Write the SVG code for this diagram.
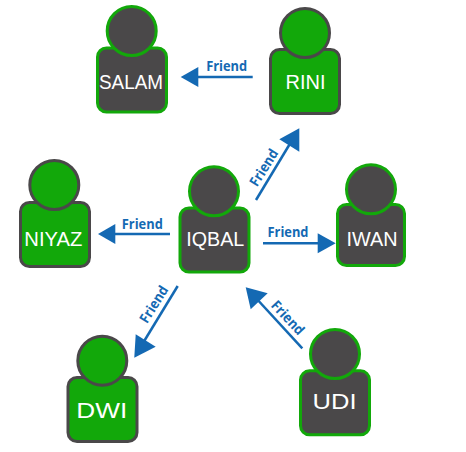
<svg xmlns="http://www.w3.org/2000/svg" width="466" height="452" viewBox="0 0 466 452">
<style>
.dark{fill:#4a4849;stroke:#12a80a;stroke-width:3}
.green{fill:#12a80a;stroke:#4a4849;stroke-width:3}
.name{font-family:"Liberation Sans",Arial,sans-serif;font-size:19.5px;fill:#fff;text-anchor:middle;dominant-baseline:central}
.big{font-size:22px}
.rel{font-family:"Open Sans","Noto Sans",sans-serif;font-weight:700;font-size:14px;fill:#1469b3;text-anchor:middle;dominant-baseline:central}
.line{stroke:#1469b3;stroke-width:2.5;fill:none}
.head{fill:#1469b3}
</style>
<rect width="466" height="452" fill="#fff"/>
<g id="connectors">
<path class="line" d="M252.7 77H190"/><polygon class="head" points="180.7,77 198.3,67 198.3,87"/>
<text class="rel" x="226.7" y="65" textLength="41" lengthAdjust="spacingAndGlyphs">Friend</text>
<path class="line" d="M256 200L291 142"/><polygon class="head" points="299.3,128.3 279.3,139.3 299.3,151.7"/>
<text class="rel" transform="translate(263.3 167.3) rotate(-58)" textLength="41" lengthAdjust="spacingAndGlyphs">Friend</text>
<path class="line" d="M263 243.3H325"/><polygon class="head" points="335.7,243.3 317.7,233.3 317.7,253.3"/>
<text class="rel" x="288" y="231" textLength="41" lengthAdjust="spacingAndGlyphs">Friend</text>
<path class="line" d="M170 234H108"/><polygon class="head" points="98,234 115.3,224 115.3,244"/>
<text class="rel" x="142.3" y="223.3" textLength="41" lengthAdjust="spacingAndGlyphs">Friend</text>
<path class="line" d="M177.7 286L143 343"/><polygon class="head" points="134.3,357.7 135.7,334.3 155.7,346.7"/>
<text class="rel" transform="translate(153.3 304) rotate(-58)" textLength="41" lengthAdjust="spacingAndGlyphs">Friend</text>
<path class="line" d="M302.3 348.3L255 297"/><polygon class="head" points="245.7,287.3 267.7,293.3 250.7,309.3"/>
<text class="rel" transform="translate(288.3 317.3) rotate(47)" textLength="41" lengthAdjust="spacingAndGlyphs">Friend</text>
</g>
<g id="salam"><rect class="dark" x="97.5" y="48" width="69" height="64" rx="9"/><circle class="dark" cx="131.7" cy="31" r="24.5"/><text class="name" x="131" y="82" textLength="64" lengthAdjust="spacingAndGlyphs">SALAM</text></g>
<g id="rini"><rect class="green" x="270.5" y="49.5" width="69" height="64" rx="9"/><circle class="green" cx="305" cy="33" r="24.5"/><text class="name" x="305.5" y="82" textLength="40" lengthAdjust="spacingAndGlyphs">RINI</text></g>
<g id="iqbal"><rect class="dark" x="180" y="208" width="69" height="64" rx="9"/><circle class="dark" cx="214" cy="191.3" r="24.5"/><text class="name" x="215.3" y="239.3" textLength="58" lengthAdjust="spacingAndGlyphs">IQBAL</text></g>
<g id="iwan"><rect class="dark" x="337.5" y="204.5" width="67" height="61" rx="9"/><circle class="dark" cx="371" cy="189.3" r="24.5"/><text class="name" x="372" y="239" textLength="51" lengthAdjust="spacingAndGlyphs">IWAN</text></g>
<g id="niyaz"><rect class="green" x="20.5" y="202.5" width="69" height="64" rx="9"/><circle class="green" cx="54.3" cy="185" r="24.5"/><text class="name" x="53.3" y="239" textLength="58" lengthAdjust="spacingAndGlyphs">NIYAZ</text></g>
<g id="dwi"><rect class="green" x="68" y="377.5" width="69" height="64" rx="9"/><circle class="green" cx="102.3" cy="360.7" r="24.5"/><text class="name big" x="101.7" y="410" textLength="51" lengthAdjust="spacingAndGlyphs">DWI</text></g>
<g id="udi"><rect class="dark" x="300.5" y="370.8" width="69" height="64" rx="9"/><circle class="dark" cx="335" cy="354" r="24.5"/><text class="name big" x="334.5" y="401.7" textLength="44" lengthAdjust="spacingAndGlyphs">UDI</text></g>
</svg>
